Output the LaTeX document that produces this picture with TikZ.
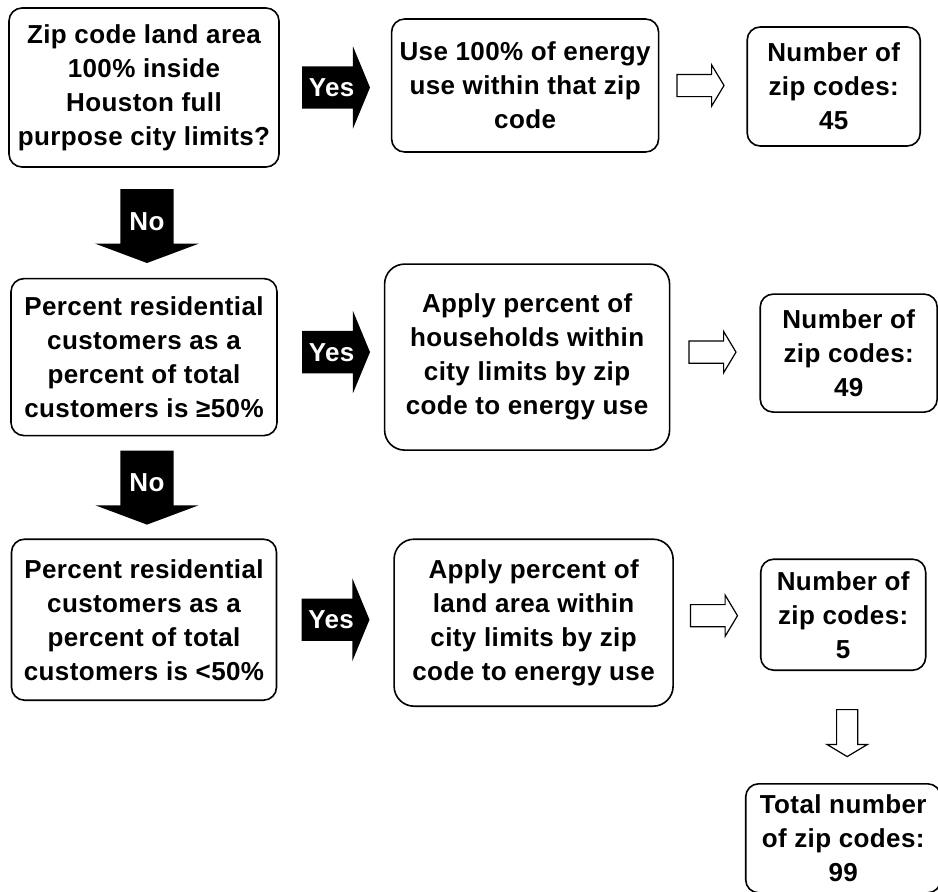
\documentclass[tikz,border=0pt]{standalone}
\usepackage{fontspec}
\setmainfont[LetterSpace=1.5]{Liberation Sans}
\usetikzlibrary{positioning,shapes.arrows}

\begin{document}
\begin{tikzpicture}[
  x=1pt, y=1pt,
  font=\fontsize{26}{34}\selectfont\bfseries,
  box/.style={draw=black, line width=1.6pt, rounded corners=13pt, align=center, inner sep=2pt},
  yesarr/.style={single arrow, fill=black, text=white, single arrow head extend=20pt,
                 single arrow tip angle=135, minimum height=68pt, inner xsep=3pt, inner ysep=12pt,
                 text height=18pt, text depth=0pt},
  noarr/.style={single arrow, shape border rotate=270, fill=black, text=white,
                single arrow head extend=25pt, single arrow tip angle=139, minimum height=74pt,
                inner sep=9pt, text height=18pt, text depth=0pt},
  thru/.style={single arrow, draw=black, fill=white, line width=1.2pt, inner sep=0pt,
               text height=10.5pt, text depth=10.5pt, single arrow head extend=9.5pt,
               single arrow tip angle=118, minimum height=47pt},
  thrudown/.style={thru, shape border rotate=270, text width=20pt, text height=0pt, text depth=0pt}
]
\useasboundingbox (0,0) rectangle (938,-892);
% ---- left column: the three tests ----
\node[box, minimum width=270pt, minimum height=159pt] (zipin) at (144,-87.5)
  {Zip code land area\\100\% inside\\Houston full\\purpose city limits?};
\node[box, below=110pt of zipin, minimum width=266pt, minimum height=157pt] (resgt)
  {Percent residential\\customers as a\\percent of total\\customers is ≥50\%};
\node[box, below=102pt of resgt, minimum width=265pt, minimum height=161pt] (reslt)
  {Percent residential\\customers as a\\percent of total\\customers is <50\%};
\node[noarr, below=21pt of zipin, xshift=3pt] (no1) {No};
\node[noarr, below=14pt of resgt, xshift=3pt] (no2) {No};
% ---- middle column: what is applied ----
\node[box, right=111pt of zipin, yshift=2pt, minimum width=267pt, minimum height=133pt] (useall)
  {Use 100\% of energy\\use within that zip\\code};
\node[box, right=106pt of resgt, rounded corners=20pt, minimum width=285pt, minimum height=186pt] (applyhh)
  {Apply percent of\\households within\\city limits by zip\\code to energy use};
\node[box, right=116pt of reslt, yshift=-3pt, rounded corners=20pt, minimum width=279pt, minimum height=167pt] (applyland)
  {Apply percent of\\land area within\\city limits by zip\\code to energy use};
\node[yesarr, right=22pt of zipin] (yes1) {Yes};
\node[yesarr, right=24pt of resgt, yshift=5pt] (yes2) {Yes};
\node[yesarr, right=24pt of reslt] (yes3) {Yes};
% ---- right column: counts ----
\node[box, right=87pt of useall, yshift=-1pt, minimum width=173pt, minimum height=119pt] (n45)
  {Number of\\zip codes:\\45};
\node[box, right=89pt of applyhh, yshift=4pt, minimum width=177pt, minimum height=118pt] (n49)
  {Number of\\zip codes:\\49};
\node[box, right=86pt of applyland, yshift=8pt, minimum width=165pt, minimum height=111pt] (n5)
  {Number of\\zip codes:\\5};
\node[box, below=112pt of n5, minimum width=195pt, minimum height=109pt] (total)
  {Total number\\of zip codes:\\99};
\node[thru, right=17pt of useall] (to45) {};
\node[thru, right=18pt of applyhh, yshift=5pt] (to49) {};
\node[thru, right=16pt of applyland, yshift=7pt] (to5) {};
\node[thrudown, below=38pt of n5, xshift=4pt] (tototal) {};
\end{tikzpicture}
\end{document}
